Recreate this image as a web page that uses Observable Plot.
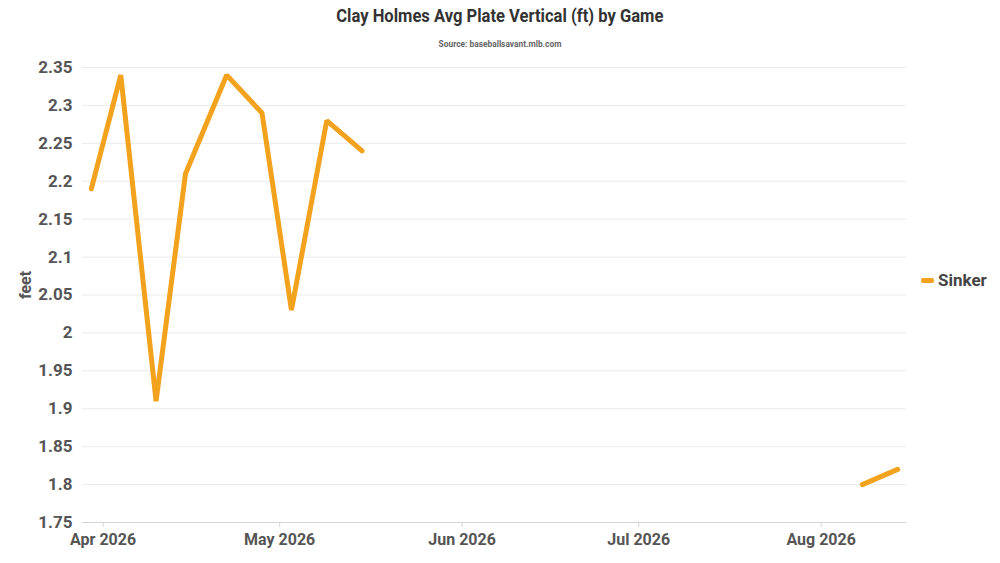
<!DOCTYPE html>
<html>
<head>
<meta charset="utf-8">
<script src="https://cdn.jsdelivr.net/npm/d3@7"></script>
<script src="https://cdn.jsdelivr.net/npm/@observablehq/plot@0.6"></script>
<style>
  body { margin: 0; background: #fff; font-family: Roboto, "Noto Sans", sans-serif; }
  #wrap { position: relative; width: 1000px; height: 563px; overflow: hidden; }
  #title { position: absolute; top: 5px; left: 0; width: 1000px; text-align: center; }
  #title span { display: inline-block; font-weight: 700; font-size: 18px; color: #333; transform: scaleX(0.92); }
  #sub { position: absolute; top: 32px; left: 0; width: 1000px; text-align: center; }
  #sub span { display: inline-block; font-weight: 700; font-size: 9px; color: #666; transform: scaleX(0.93); }
  #chart { position: absolute; top: 50px; left: 0; }
  #ylab { position: absolute; left: 25px; top: 285px; transform: translate(-50%, -50%) rotate(-90deg); font-weight: 700; font-size: 16px; color: #555; }
  #legend { position: absolute; left: 921px; top: 270px; display: flex; align-items: center; font-weight: 700; font-size: 17px; color: #444; }
  #legend i { display: inline-block; width: 13px; height: 5px; background: #F3A21D; border-radius: 2px; margin-right: 4px; }
</style>
</head>
<body>
<div id="wrap">
  <div id="title"><span>Clay Holmes Avg Plate Vertical (ft) by Game</span></div>
  <div id="sub"><span>Source: baseballsavant.mlb.com</span></div>
  <div id="chart"></div>
  <div id="ylab">feet</div>
  <div id="legend"><i></i><span>Sinker</span></div>
</div>
<script>
// Data (game dates and average plate vertical, feet); null marks the gap without games
const gameDates = ["2026-03-30","2026-04-04","2026-04-10","2026-04-15","2026-04-22","2026-04-28","2026-05-03","2026-05-09","2026-05-15","2026-06-15","2026-08-08","2026-08-14"];
const sinkerValues = [2.19, 2.34, 1.91, 2.21, 2.34, 2.29, 2.03, 2.28, 2.24, null, 1.80, 1.82];
const seriesName = "Sinker";
const yTicks = [1.75, 1.8, 1.85, 1.9, 1.95, 2, 2.05, 2.1, 2.15, 2.2, 2.25, 2.3, 2.35];
const xTicks = ["2026-04-01","2026-05-01","2026-06-01","2026-07-01","2026-08-01"];
const xDomain = ["2026-03-28T12:00:00Z","2026-08-15T12:00:00Z"];

const data = gameDates.map((d, i) => ({date: new Date(d + "T00:00:00Z"), value: sinkerValues[i], series: seriesName}));
const fmtY = d => String(+d.toFixed(2));
const fmtX = d3.utcFormat("%b %Y");

const chart = Plot.plot({
  width: 1000,
  height: 513,
  marginTop: 17,
  marginBottom: 41,
  marginLeft: 82,
  marginRight: 94,
  style: {fontFamily: "Roboto, sans-serif", fontWeight: 700, color: "#555", background: "transparent"},
  x: {type: "utc", domain: xDomain.map(d => new Date(d))},
  y: {domain: [1.75, 2.35]},
  marks: [
    Plot.ruleY(yTicks.slice(1), {stroke: "#ebebeb", strokeWidth: 1}),
    Plot.ruleY([1.75], {stroke: "#d4d4d4", strokeWidth: 1}),
    Plot.axisY({ticks: yTicks, tickFormat: fmtY, tickSize: 0, tickPadding: 10, fontSize: 17, fill: "#555", label: null}),
    Plot.axisX({ticks: xTicks.map(d => new Date(d + "T00:00:00Z")), tickFormat: fmtX, tickSize: 5, tickPadding: 6, fontSize: 16, fill: "#555", stroke: "#d4d4d4", label: null}),
    Plot.line(data, {x: "date", y: "value", stroke: "#F3A21D", strokeWidth: 5, strokeLinecap: "round", strokeLinejoin: "miter"})
  ]
});
document.getElementById("chart").appendChild(chart);
</script>
</body>
</html>
